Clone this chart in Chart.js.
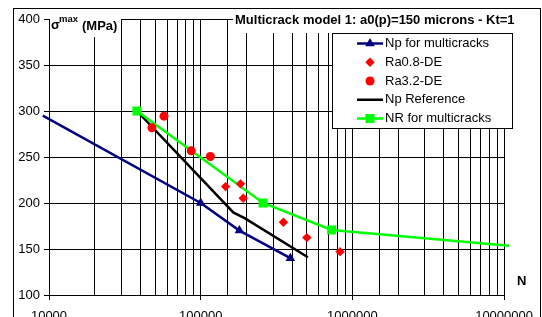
<!DOCTYPE html>
<html><head><meta charset="utf-8">
<script src="https://cdn.jsdelivr.net/npm/chart.js@4/dist/chart.umd.min.js"></script>
<style>html,body{margin:0;padding:0;background:#fff}canvas{display:block}</style>
</head><body>
<canvas id="c" width="542" height="317"></canvas>
<script>
// ---- data ----
const npMultiN = [9100, 100000, 180000, 390000];
const npMultiS = [295, 200, 170, 140];
const ra08N = [146000, 183000, 190600, 351000, 501000, 829000];
const ra08S = [217.8, 220.8, 205.2, 179.1, 162.4, 147.1];
const ra32N = [47700, 57300, 86600, 115800];
const ra32S = [281.7, 294.4, 256.7, 250.5];
const npRefN = [38000, 164000, 196000, 509000];
const npRefS = [300, 189.8, 183.2, 141];
const nrMultiN = [38000, 258000, 730000, 10800000];
const nrMultiS = [300, 200, 170.7, 153.6];
const seriesLabels = ['Np for multicracks', 'Ra0.8-DE', 'Ra3.2-DE', 'Np Reference', 'NR for multicracks'];
const xTickLabels = ['10000', '100000', '1000000', '10000000'];
const yTickValues = [100, 150, 200, 250, 300, 350, 400];
const chartTitle = 'Multicrack model 1: a0(p)=150 microns - Kt=1';
const yTitleMain = 'σ', yTitleSup = 'max', yTitleUnit = '(MPa)';
const xTitle = 'N';

const pts = (xs, ys) => xs.map((x, i) => ({x: x, y: ys[i]}));
const FONT = "'Liberation Sans', Arial, Helvetica, sans-serif";
Chart.defaults.font.family = FONT;
Chart.defaults.font.size = 13;
Chart.defaults.color = '#000';

function isMajor(v) { const l = Math.log10(v); return Math.abs(l - Math.round(l)) < 1e-6; }

function drawMarker(ctx, style, x, y, r, color) {
  ctx.save();
  ctx.fillStyle = color;
  ctx.beginPath();
  if (style === 'triangle') {
    ctx.moveTo(x, y - r);
    ctx.lineTo(x + r * 0.866, y + r * 0.5);
    ctx.lineTo(x - r * 0.866, y + r * 0.5);
  } else if (style === 'rectRot') {
    ctx.moveTo(x, y - r); ctx.lineTo(x + r, y); ctx.lineTo(x, y + r); ctx.lineTo(x - r, y);
  } else if (style === 'rect') {
    const s = r * Math.SQRT1_2;
    ctx.rect(x - s, y - s, 2 * s, 2 * s);
  } else if (style === 'circle') {
    ctx.arc(x, y, r, 0, Math.PI * 2);
  }
  ctx.closePath();
  ctx.fill();
  ctx.restore();
}

const decor = {
  id: 'decor',
  afterDraw(chart) {
    const ctx = chart.ctx;
    ctx.save();
    // chart title with white background
    ctx.fillStyle = '#fff';
    ctx.fillRect(233, 9, 282, 24);
    ctx.fillStyle = '#000';
    ctx.font = 'bold 13px ' + FONT;
    ctx.textBaseline = 'middle';
    ctx.textAlign = 'left';
    ctx.fillText(chartTitle, 235, 20);
    // y axis title with white background
    ctx.fillStyle = '#fff';
    ctx.fillRect(50, 19, 71, 18);
    ctx.fillStyle = '#000';
    ctx.font = 'bold 13px ' + FONT;
    ctx.fillText(yTitleMain, 51, 25);
    ctx.font = 'bold 9.5px ' + FONT;
    ctx.fillText(yTitleSup, 59, 19);
    ctx.font = 'bold 13px ' + FONT;
    ctx.fillText(yTitleUnit, 82, 26);
    // x axis title
    ctx.fillText(xTitle, 517, 281);
    // legend
    const lx = 332.5, ly = 33.5, lw = 180, lh = 95;
    ctx.fillStyle = '#fff';
    ctx.fillRect(lx, ly, lw, lh);
    ctx.strokeStyle = '#000';
    ctx.lineWidth = 1;
    ctx.strokeRect(lx, ly, lw, lh);
    chart.data.datasets.forEach((ds, i) => {
      const y = 43.5 + i * 18.75;
      if (ds.showLine) {
        ctx.strokeStyle = ds.borderColor;
        ctx.lineWidth = ds.borderWidth;
        ctx.beginPath(); ctx.moveTo(357, y); ctx.lineTo(383, y); ctx.stroke();
      }
      if (ds.legendMarker) drawMarker(ctx, ds.pointStyle, 370, y, ds.legendMarker, ds.backgroundColor);
      ctx.fillStyle = '#000';
      ctx.font = '13px ' + FONT;
      ctx.textBaseline = 'middle';
      ctx.fillText(ds.label, 385, y);
    });
    // outer border
    ctx.strokeStyle = '#000';
    ctx.lineWidth = 1;
    ctx.strokeRect(13.5, 8.5, 527, 330);
    ctx.restore();
  }
};

new Chart(document.getElementById('c'), {
  type: 'scatter',
  data: {
    datasets: [
      {label: seriesLabels[0], data: pts(npMultiN, npMultiS), showLine: true, borderColor: '#000080', backgroundColor: '#000080',
       borderWidth: 2.5, pointStyle: 'triangle', pointRadius: [0, 5.5, 5.5, 5.5], pointBorderWidth: 0, clip: false, order: 3, legendMarker: 5.5},
      {label: seriesLabels[1], data: pts(ra08N, ra08S), showLine: false, borderColor: '#ff0000', backgroundColor: '#ff0000',
       pointStyle: 'rectRot', pointRadius: 4.7, pointBorderWidth: 0, order: 0, legendMarker: 4.7},
      {label: seriesLabels[2], data: pts(ra32N, ra32S), showLine: false, borderColor: '#ff0000', backgroundColor: '#ff0000',
       pointStyle: 'circle', pointRadius: 4.5, pointBorderWidth: 0, order: 0, legendMarker: 4.5},
      {label: seriesLabels[3], data: pts(npRefN, npRefS), showLine: true, borderColor: '#000000', backgroundColor: '#000000',
       borderWidth: 2.5, pointRadius: 0, order: 2, legendMarker: 0},
      {label: seriesLabels[4], data: pts(nrMultiN, nrMultiS), showLine: true, borderColor: '#00ff00', backgroundColor: '#00ff00',
       borderWidth: 2.5, pointStyle: 'rect', pointRadius: [6.4, 6.4, 6.4, 0], pointBorderWidth: 0, clip: false, order: 1, legendMarker: 6.4}
    ]
  },
  options: {
    responsive: false,
    animation: false,
    events: [],
    layout: {padding: {top: 19, right: 31, bottom: 0, left: 0}},
    plugins: {legend: {display: false}, title: {display: false}, tooltip: {enabled: false}},
    scales: {
      x: {
        type: 'logarithmic', position: 'bottom', min: 10000, max: 10000000,
        grid: {color: '#000', lineWidth: 1, tickLength: 5,
               tickColor: c => (c.tick && isMajor(c.tick.value)) ? '#000' : 'rgba(0,0,0,0)'},
        border: {color: '#000', width: 1},
        ticks: {autoSkip: false, maxRotation: 0, minRotation: 0, padding: 9, color: '#000',
                callback: v => isMajor(v) ? xTickLabels[Math.round(Math.log10(v)) - 4] : ''},
        afterFit: s => { s.height = 22; }
      },
      y: {
        type: 'linear', min: 100, max: 400,
        afterBuildTicks: s => { s.ticks = yTickValues.map(v => ({value: v})); },
        grid: {color: '#000', lineWidth: 1, tickLength: 5},
        border: {color: '#000', width: 1},
        ticks: {padding: 4, color: '#000'},
        afterFit: s => { s.width = 49; }
      }
    }
  },
  plugins: [decor]
});
</script>
</body></html>
